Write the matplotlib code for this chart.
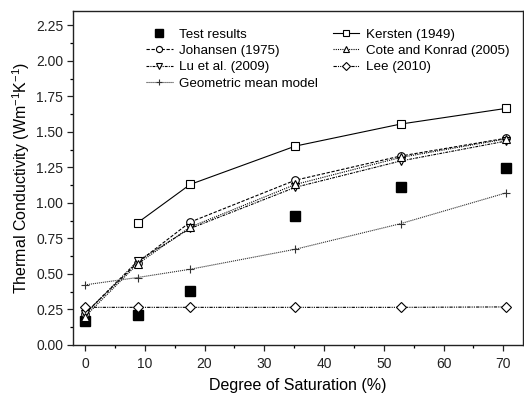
import matplotlib

matplotlib.use("Agg")
import matplotlib.pyplot as plt
from matplotlib.ticker import MultipleLocator

plt.rcParams["font.family"] = ["Liberation Sans", "DejaVu Sans"]
plt.rcParams["mathtext.fontset"] = "custom"
plt.rcParams["mathtext.rm"] = "Liberation Sans"

# Degree of saturation (%) for each measured / predicted point
saturation = [0, 8.8, 17.6, 35.2, 52.8, 70.4]

test_results = [0.168, 0.21, 0.38, 0.91, 1.11, 1.245]
kersten_sat = [8.8, 17.6, 35.2, 52.8, 70.4]
kersten = [0.86, 1.13, 1.40, 1.555, 1.665]
johansen = [0.22, 0.58, 0.865, 1.16, 1.33, 1.455]
cote_konrad = [0.20, 0.57, 0.83, 1.13, 1.32, 1.45]
lu = [0.22, 0.59, 0.82, 1.11, 1.295, 1.435]
lee = [0.265, 0.265, 0.265, 0.265, 0.265, 0.268]
geometric_mean = [0.423, 0.475, 0.533, 0.674, 0.854, 1.07]

fig = plt.figure(figsize=(5.24, 3.97), dpi=100)
ax = fig.add_axes([0.1393, 0.131, 0.859, 0.841])

open_mk = dict(mfc="white", mec="black", ms=5.5, mew=0.8, lw=0.8)

ax.plot(saturation, test_results, "s", color="black", ms=7.5, ls="none",
        label="Test results")
ax.plot(saturation, johansen, "o", color="black", ls=(0, (3, 1.5)),
        label="Johansen (1975)", **open_mk)
ax.plot(saturation, lu, "v", color="black", ls=(0, (2.5, 1, 1, 1)),
        label="Lu et al. (2009)", **open_mk)
ax.plot(saturation, geometric_mean, "+", color="#333333", ls=(0, (1, 0.8)),
        ms=6, mew=0.8, lw=0.8, label="Geometric mean model")
ax.plot(kersten_sat, kersten, "s", color="black", ls="-",
        label="Kersten (1949)", **open_mk)
ax.plot(saturation, cote_konrad, "^", color="black", ls=(0, (1, 1)),
        label="Cote and Konrad (2005)", **open_mk)
ax.plot(saturation, lee, "D", color="black", ls=(0, (3, 1, 1, 1, 1, 1)),
        label="Lee (2010)", mfc="white", mec="black", ms=5, mew=0.8, lw=0.8)

ax.set_xlim(-2, 73.3)
ax.set_ylim(0, 2.35)
ax.xaxis.set_major_locator(MultipleLocator(10))
ax.xaxis.set_minor_locator(MultipleLocator(5))
ax.yaxis.set_major_locator(MultipleLocator(0.25))
ax.yaxis.set_minor_locator(MultipleLocator(0.125))
ax.yaxis.set_major_formatter(plt.FormatStrFormatter("%.2f"))
ax.tick_params(which="major", direction="out", length=4, width=0.9,
               labelsize=10, colors="#222222", pad=3)
ax.tick_params(axis="x", which="major", pad=5)
ax.tick_params(which="minor", direction="out", length=2.5, width=0.9)
for spine in ax.spines.values():
    spine.set_linewidth(1.0)
    spine.set_color("#222222")

ax.set_xlabel("Degree of Saturation (%)", fontsize=11.5, labelpad=5)
ax.set_ylabel(r"Thermal Conductivity (Wm$^{\mathregular{-1}}$K$^{\mathregular{-1}}$)",
              fontsize=11.5, labelpad=3)

ax.legend(ncol=2, frameon=False, fontsize=9.6, loc="upper left",
          bbox_to_anchor=(0.162, 0.948), handlelength=2.0, handletextpad=0.5,
          columnspacing=1.1, labelspacing=0.3, borderaxespad=0.0,
          borderpad=0.0, markerscale=0.8)

fig.savefig("out.png", dpi=100)
